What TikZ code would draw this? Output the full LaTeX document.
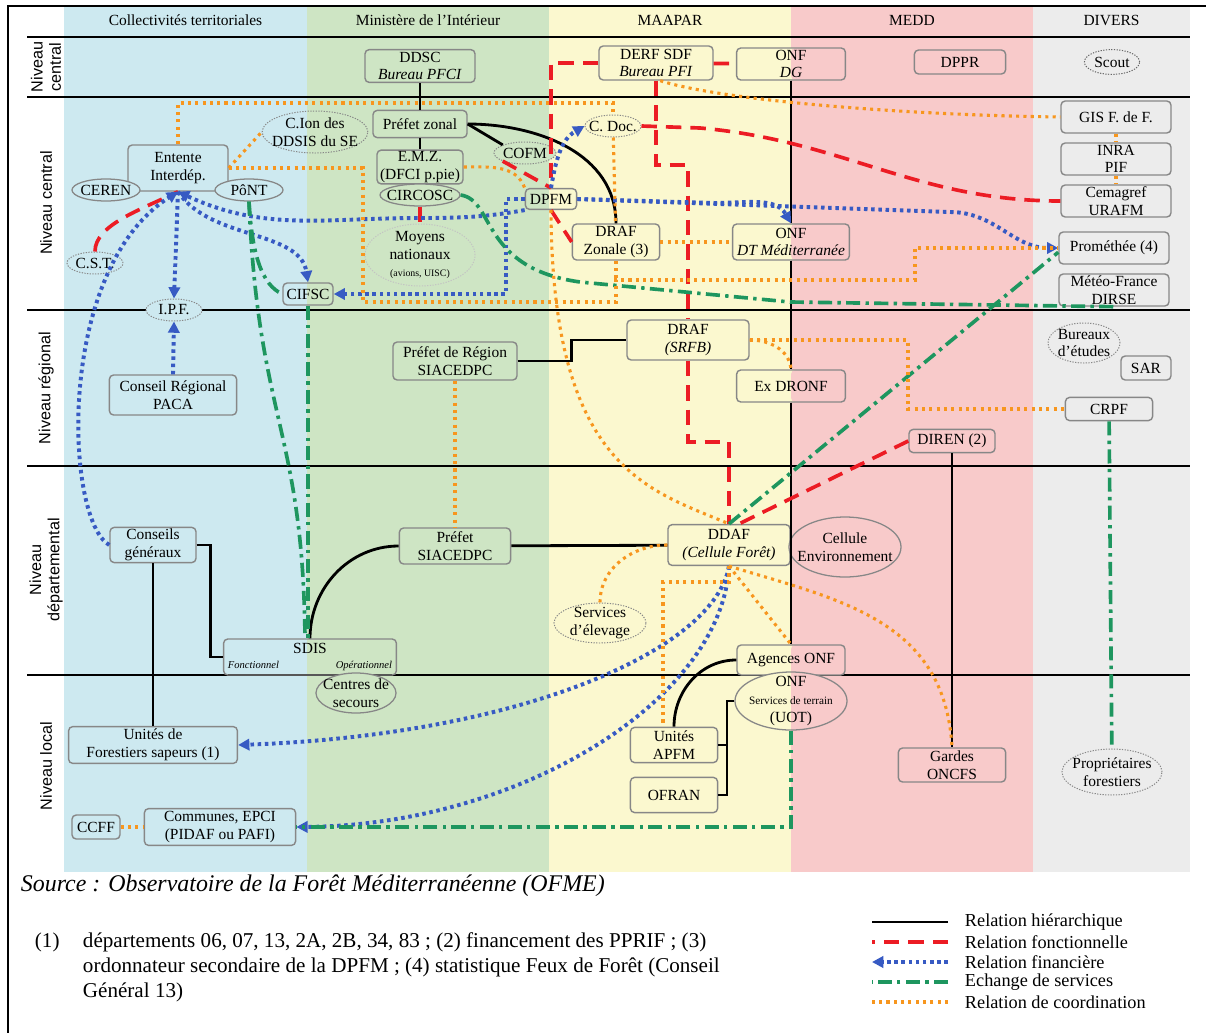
\documentclass[tikz,border=0pt]{standalone}
\usepackage{fontspec}
\setmainfont{Liberation Serif}
\setsansfont{Liberation Sans}
\usetikzlibrary{arrows.meta, positioning, shapes.geometric, calc}
\definecolor{colct}{RGB}{205,233,240}
\definecolor{colmi}{RGB}{206,229,196}
\definecolor{colma}{RGB}{251,248,207}
\definecolor{colme}{RGB}{248,202,202}
\definecolor{coldv}{RGB}{236,236,236}
\definecolor{boxgray}{RGB}{135,135,135}
\definecolor{lred}{RGB}{236,28,36}
\definecolor{lblue}{RGB}{55,90,195}
\definecolor{lgreen}{RGB}{30,150,95}
\definecolor{lorange}{RGB}{247,150,30}

\begin{document}
\begin{tikzpicture}[
  x=0.025cm, y=-0.025cm,
  every node/.style={font=\fontsize{11}{12.5}\selectfont},
  box/.style={rectangle, rounded corners=3pt, draw=boxgray, line width=1pt,
              align=center, inner sep=1pt},
  oval/.style={ellipse, draw=boxgray, line width=0.9pt, align=center,
               inner xsep=-4pt, inner ysep=-3pt},
  doval/.style={oval, densely dotted, line width=0.7pt},
  sz/.style 2 args={minimum width=#1cm, minimum height=#2cm},
  onfsplit/.style={fill=colma, path picture={\fill[colme]
      (path picture bounding box.north) rectangle (path picture bounding box.south east);}},
  head/.style={font=\fontsize{11}{12.5}\selectfont},
  lvl/.style={rotate=90, align=center, font=\sffamily\fontsize{11.5}{13}\selectfont},
  legtxt/.style={anchor=west, font=\fontsize{13}{14}\selectfont},
  rhier/.style={line width=2pt},
  rfonc/.style={draw=lred, line width=2.6pt, dash pattern=on 11pt off 6.4pt},
  rfin/.style={draw=lblue, line width=2.8pt, dash pattern=on 2.5pt off 2.6pt,
               -{Triangle[length=8pt,width=8pt]}},
  rserv/.style={draw=lgreen, line width=2.6pt, dash pattern=on 10pt off 3.8pt on 2.4pt off 3.8pt},
  rcoord/.style={draw=lorange, line width=2.2pt, dash pattern=on 2.2pt off 3pt}
]
\useasboundingbox (0,0) rectangle (1206,1033);

\foreach \xa/\xb/\col/\name [count=\i] in {64/307/colct/Collectivités territoriales,
    307/549/colmi/Ministère de l'Intérieur, 549/791/colma/MAAPAR,
    791/1033/colme/MEDD, 1033/1190/coldv/DIVERS}{
  \fill[\col] (\xa,7) rectangle (\xb,872);
  \node[head] (hd\i) at ({(\xa+\xb)/2},20) {\name};
}
\draw[line width=1pt] (8,1033) -- (8,6) -- (1206,6);
\foreach \yy in {37,97,310,466,675}
  \draw[line width=0.8pt] (27,\yy) -- (1190,\yy);
\foreach \yy/\txt [count=\i] in {67/Niveau\\central, 203/Niveau central,
    388/Niveau régional, 570/Niveau\\départemental, 766/Niveau local}
  \node[lvl] (lv\i) at (46,\yy) {\txt};

% niveau central (haut)
\node[box, fill=colmi, sz={2.75}{0.82}] (ddsc) at (420,66) {DDSC\\\textit{Bureau PFCI}};
\node[box, fill=colma, sz={2.85}{0.85}] (derf) at (656,63) {DERF SDF\\\textit{Bureau PFI}};
\node[box, onfsplit, sz={2.72}{0.8}] (onfdg) at (791,64) {ONF\\\textit{DG}};
\node[box, fill=colme, sz={2.28}{0.6}] (dppr) at (960,62) {DPPR};
\node[doval, fill=coldv, draw=black!60, sz={1.38}{0.62}] (scout) at (1112,62) {Scout};

% niveau central
\node[box, fill=colmi, sz={2.35}{0.68}] (prefz) at (420,124) {Préfet zonal};
\node[box, fill=colmi, sz={2.15}{0.8}] (emz) at (420,167) {E.M.Z.\\(DFCI p.pie)};
\node[oval, fill=colmi, sz={2.0}{0.55}] (circosc) at (420,195) {CIRCOSC};
\node[doval, fill=colmi, draw=boxgray!50, sz={2.75}{1.55}] (moyens) at (420,255)
  {Moyens\\nationaux\\{\fontsize{7}{8}\selectfont (avions, UISC)}};
\node[doval, sz={2.5}{1.05}] (cion) at (315,132) {C.Ion des\\DDSIS du SE};
\node[doval, fill=colmi, sz={1.55}{0.55}] (cofm) at (525,153) {COFM};
\node[box, fill=colct, sz={2.5}{1.15}] (entente) at (178,168) {Entente\\Interdép.};
\node[oval, fill=colct, sz={1.7}{0.55}] (ceren) at (106,190) {CEREN};
\node[oval, fill=colct, sz={1.7}{0.55}] (pont) at (249,190) {PôNT};
\node[doval, fill=colct, sz={1.4}{0.55}] (cst) at (95,263) {C.S.T.};
\node[box, sz={1.25}{0.55}] (cifsc) at (308,294) {CIFSC};
\node[doval, fill=colct, sz={1.4}{0.55}] (ipf) at (174,310) {I.P.F.};
\node[box, sz={1.28}{0.52}] (dpfm) at (551,199) {DPFM};
\node[doval, fill=colma, sz={1.4}{0.55}] (cdoc) at (613,126) {C. Doc.};
\node[box, fill=colma, sz={2.18}{0.9}] (drafz) at (616,242) {DRAF\\Zonale (3)};
\node[box, onfsplit, sz={2.92}{0.9}] (onfdt) at (791,242) {ONF\\\textit{DT Méditerranée}};
\node[box, fill=coldv, sz={2.75}{0.8}] (gis) at (1116,117) {GIS F. de F.};
\node[box, fill=coldv, sz={2.75}{0.8}] (inra) at (1116,159) {INRA\\PIF};
\node[box, fill=coldv, sz={2.75}{0.8}] (cemag) at (1116,201) {Cemagref\\URAFM};
\node[box, fill=coldv, sz={2.75}{0.8}] (prom) at (1114,248) {Prométhée (4)};
\node[box, fill=coldv, sz={2.75}{0.8}] (meteo) at (1114,290) {Météo-France\\DIRSE};

% niveau regional
\node[box, fill=colct, sz={3.18}{1.0}] (conreg) at (173,395) {Conseil Régional\\PACA};
\node[box, fill=colmi, sz={3.1}{0.95}] (prefreg) at (455,361) {Préfet de Région\\SIACEDPC};
\node[box, fill=colma, sz={3.05}{1.0}] (drafr) at (688,340) {DRAF\\\textit{(SRFB)}};
\node[box, onfsplit, sz={2.72}{0.8}] (dronf) at (791,386) {Ex DRONF};
\node[doval, fill=coldv, sz={1.8}{1.0}] (bureaux) at (1084,343) {Bureaux\\d'études};
\node[box, fill=coldv, sz={1.25}{0.6}] (sar) at (1146,368) {SAR};
\node[box, fill=coldv, sz={2.18}{0.58}] (crpf) at (1109,409) {CRPF};
\node[box, fill=colme, sz={2.15}{0.58}] (diren) at (952,441) {DIREN (2)};

% niveau departemental
\node[box, fill=colct, sz={2.15}{0.88}] (congen) at (153,545) {Conseils\\généraux};
\node[box, fill=colmi, sz={2.78}{0.9}] (prefdep) at (455,546) {Préfet\\SIACEDPC};
\node[box, fill=colma, sz={3.05}{1.02}] (ddaf) at (729,545) {DDAF\\\textit{(Cellule Forêt)}};
\node[oval, fill=colme, inner xsep=-7pt, sz={2.8}{1.5}] (cellenv) at (845,547) {Cellule\\Environnement};
\node[doval, fill=colma, sz={2.3}{1.0}] (elevage) at (600,623) {Services\\d'élevage};
\node[box, sz={4.32}{0.9}] (sdis) at (310,657)
  {SDIS\\[-2pt]\makebox[4.1cm]{\fontsize{7.5}{8}\selectfont\itshape Fonctionnel\hfill Opérationnel}};
\node[box, onfsplit, sz={2.7}{0.75}] (agences) at (791,660) {Agences ONF};

% niveau local
\node[oval, fill=colmi, sz={2.0}{1.0}] (centres) at (356,693) {Centres de\\secours};
\node[oval, onfsplit, sz={2.8}{1.45}] (onfuot) at (791,701)
  {ONF\\{\fontsize{8}{9}\selectfont Services de terrain}\\(UOT)};
\node[box, fill=colct, sz={4.22}{0.92}] (ufs) at (153,745) {Unités de\\Forestiers sapeurs (1)};
\node[box, fill=colma, sz={2.18}{0.88}] (apfm) at (674,745) {Unités\\APFM};
\node[box, fill=colma, sz={2.18}{0.88}] (ofran) at (674,795) {OFRAN};
\node[box, fill=colme, sz={2.68}{0.85}] (gardes) at (952,765) {Gardes\\ONCFS};
\node[doval, fill=coldv, sz={2.5}{1.15}] (proprio) at (1112,772) {Propriétaires\\forestiers};
\node[box, fill=colct, sz={1.2}{0.6}] (ccff) at (96,827) {CCFF};
\node[box, fill=colct, sz={3.78}{0.92}] (communes) at (220,827) {Communes, EPCI\\(PIDAF ou PAFI)};
\coordinate (brk) at (727,701);

% relations hierarchiques
\draw[rhier] (ddsc) -- (prefz);
\draw[rhier] (prefz) -- (emz);
\draw[rhier] (prefz.east) -- (cofm.north west);
\draw[rhier] (prefz.east) to[out=0,in=90] (drafz.north);
\draw[rhier] (onfdg) -- (onfdt);
\draw[rhier] (onfdt) -- (dronf);
\draw[rhier] (dronf) -- (agences);
\draw[rhier] (prefreg.east) -- ++(54,0) |- (drafr.west);
\draw[rhier] (prefdep) -- (ddaf);
\draw[rhier] (prefdep.west) to[out=180,in=90] (sdis.north);
\draw[rhier] (congen.east) -- ++(14,0) |- (sdis.west);
\draw[rhier] (congen) -- (ufs);
\draw[rhier] (diren) -- (gardes);
\draw[rhier] (agences.west) to[out=180,in=90] (apfm.north);
\draw[rhier] (onfuot.west) -- (brk) |- (ofran.east);
\draw[rhier] (apfm.east) -- (apfm.east -| brk);

% relations fonctionnelles
\draw[rfonc] (derf.west) -| (dpfm.north);
\draw[rfonc] (derf) -- (onfdg);
\draw[rfonc] (derf.south) |- (688,165) -- (drafr.north);
\draw[rfonc] (cdoc.east) -- (700,128) to[out=-5,in=180] (cemag.west);
\draw[rfonc] (drafr.south) |- (729,442) -- (ddaf.north);
\draw[rfonc] (cofm.south west) -- (dpfm.north);
\draw[rfonc] (dpfm.south) -- (drafz.west);
\draw[rfonc] (circosc) -- (moyens);
\draw[rfonc] (cst.north) .. controls (95,225) and (140,210) .. (entente.south);
\draw[rfonc] (diren.west) -- ($(ddaf.north)+(10,0)$);

% relations financieres
\draw[rfin] (entente.south) -- (ipf.north);
\draw[rfin] (conreg.north) -- (ipf.south);
\draw[rfin] (congen.west) .. controls (65,520) and (55,270) .. (entente.south);
\draw[rfin] (entente.south) .. controls (210,240) and (300,230) .. (cifsc.north);
\draw[rfin] (dpfm.south west) to[out=190,in=0] (420,218) to[out=180,in=-25] (entente.south);
\draw[rfin] (dpfm.west) -- ++(-19,0) |- (cifsc.east);
\draw[rfin] (dpfm.north) to[out=80,in=210] (cdoc.west);
\draw[rfin] (dpfm.east) -- (715,203) to[out=0,in=120] (onfdt.north);
\draw[rfin] (dpfm.east) -- (950,212) to[out=0,in=180] (prom.west);
\draw[rfin] (ddaf.south) .. controls (715,650) and (520,735) .. (ufs.east);
\draw[rfin] (ddaf.south) .. controls (722,700) and (520,825) .. (communes.east);

% echanges de services
\draw[rserv] (cifsc.south) -- (cifsc.south |- sdis.north);
\draw[rserv] (pont.south) .. controls (258,420) and (303,430) .. ($(sdis.north)+(-5,0)$);
\draw[rserv] (pont.south) .. controls (252,255) and (262,285) .. (cifsc.west);
\draw[rserv] (circosc.east) .. controls (495,200) and (480,268) .. (580,282) -- (790,302) -- (meteo.south);
\draw[rserv] (ddaf.north) -- ([yshift=-3pt]prom.west);
\draw[rserv] (crpf) -- (proprio);
\draw[rserv] (onfuot.south) |- (communes.east);

% relations de coordination
\draw[rcoord] (entente.north) -- (178,103) -| (cdoc.north);
\draw[rcoord] (cdoc) -- (drafz);
\draw[rcoord] (entente.east) -- (cion.west);
\draw[rcoord] (entente.east) -| (363,302) -| (616,280) -| (915,248) -- (prom.west);
\draw[rcoord] (drafz) -- (616,280);
\draw[rcoord] (drafz) -- (onfdt);
\draw[rcoord] (emz.east) to[out=0,in=110] (dpfm.north west);
\draw[rcoord] (dpfm.south) .. controls (552,470) and (650,490) .. (ddaf.north);
\draw[rcoord] ([xshift=3pt]derf.south) .. controls (720,100) and (900,115) .. (gis.west);
\draw[rcoord] (gis) -- (inra);
\draw[rcoord] (inra) -- (cemag);
\draw[rcoord] (prefreg) -- (prefdep);
\draw[rcoord] (drafr.east) -| (908,409) -- (crpf.west);
\draw[rcoord] (drafr.east) to[out=0,in=95] (dronf.north);
\draw[rcoord] (ddaf.west) to[out=180,in=90] (elevage.north);
\draw[rcoord] (ddaf.south) -- (729,582) -| ($(apfm.north)+(-11,0)$);
\draw[rcoord] (ddaf.south) -- (agences.north);
\draw[rcoord] (ddaf.south) .. controls (840,600) and (945,620) .. (gardes.north);
\draw[rcoord] (ccff) -- (communes);

% source, notes, legende
\node[anchor=west, font=\itshape\fontsize{17}{19}\selectfont] (src) at (16,886)
  {Source : Observatoire de la Forêt Méditerranéenne (OFME)};
\node[anchor=north west, font=\fontsize{15}{17.8}\selectfont] (fnum) at (30,928) {(1)};
\node[anchor=north west, align=left, font=\fontsize{15}{17.8}\selectfont] (fntxt) at (78,928)
  {départements 06, 07, 13, 2A, 2B, 34, 83 ; (2) financement des PPRIF ; (3)\\
   ordonnateur secondaire de la DPFM ; (4) statistique Feux de Forêt (Conseil\\
   Général 13)};
\foreach \st/\txt [count=\i] in {rhier/Relation hiérarchique, rfonc/Relation fonctionnelle,
    rfin/Relation financière, rserv/Echange de services, rcoord/Relation de coordination}{
  \coordinate (la\i) at (948,902+20*\i);
  \coordinate (lb\i) at (872,902+20*\i);
  \draw[\st] (la\i) -- (lb\i);
  \node[legtxt] (lt\i) at (960,902+20*\i) {\txt};
}
\end{tikzpicture}
\end{document}
